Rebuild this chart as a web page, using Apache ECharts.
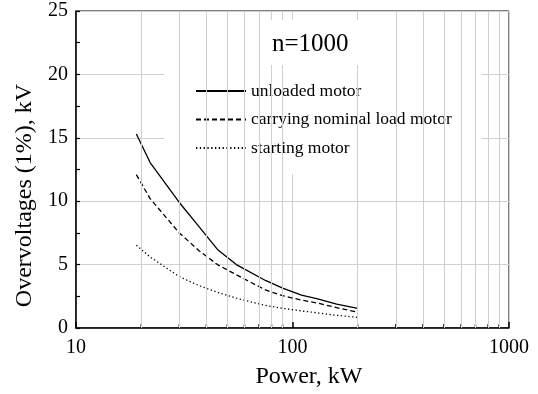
<!DOCTYPE html>
<html>
<head>
<meta charset="utf-8">
<script src="https://cdn.jsdelivr.net/npm/echarts@6/dist/echarts.min.js"></script>
<style>
  html, body { margin: 0; padding: 0; background: #fff; }
  #chart-container { width: 538px; height: 394px; }
</style>
</head>
<body>
<div id="chart-container"></div>
<script>
// 讀圖估出來的數值
const seriesNames = ['unloaded motor', 'carrying nominal load motor', 'starting motor'];
const power = [19, 22, 30, 37, 45, 55, 75, 90, 110, 132, 160, 200];
const unloaded = [15.3, 13.05, 9.9, 8.0, 6.2, 5.0, 3.75, 3.15, 2.6, 2.27, 1.88, 1.55];
const nominalLoad = [12.1, 10.2, 7.5, 6.1, 5.0, 4.2, 3.0, 2.55, 2.2, 1.95, 1.6, 1.25];
const starting = [6.53, 5.6, 4.05, 3.34, 2.82, 2.35, 1.78, 1.55, 1.35, 1.18, 1.0, 0.84];
const minorX = [20, 30, 40, 50, 60, 70, 80, 90, 200, 300, 400, 500, 600, 700, 800, 900];
const titleText = 'n=1000';

const font = "'Liberation Serif', 'Times New Roman', serif";

function pairs(values) {
  return power.map((p, i) => [p, values[i]]);
}

function renderChart() {
  var dom = document.getElementById('chart-container');
  var myChart = echarts.init(dom, null, { renderer: 'canvas' });

  const curveStyle = (type) => ({
    color: '#000',
    width: 1.3,
    type: type
  });

  var option = {
    animation: false,
    backgroundColor: '#fff',
    textStyle: { fontFamily: font, color: '#000' },
    title: {
      text: titleText,
      left: 262,
      top: 20,
      padding: [12, 25, 8, 10],
      backgroundColor: '#fff',
      textStyle: { fontFamily: font, fontSize: 25, fontWeight: 'normal', color: '#000' }
    },
    legend: {
      data: seriesNames,
      orient: 'vertical',
      left: 164,
      top: 65,
      padding: [17, 30, 17, 31],
      itemWidth: 50,
      itemHeight: 10,
      itemGap: 10.5,
      backgroundColor: '#fff',
      selectedMode: false,
      // 只留線段，不要圓點
      itemStyle: { color: 'transparent', borderWidth: 0, opacity: 0 },
      textStyle: { fontFamily: font, fontSize: 17.5, color: '#000' }
    },
    grid: {
      left: 76,
      right: 29,
      top: 11,
      bottom: 64,
      show: true,
      borderColor: '#000',
      borderWidth: 1
    },
    xAxis: {
      type: 'log',
      logBase: 10,
      min: 10,
      max: 1000,
      name: 'Power, kW',
      nameLocation: 'middle',
      nameGap: 37,
      nameTextStyle: { fontFamily: font, fontSize: 24, color: '#000', padding: [0, 0, 0, 33] },
      axisLine: { lineStyle: { color: '#000', width: 1.5 } },
      axisTick: { inside: true, length: 6, lineStyle: { color: '#000', width: 1.5 } },
      axisLabel: {
        fontFamily: font, fontSize: 20, color: '#000', margin: 10,
        formatter: v => String(Math.round(v))
      },
      splitLine: { show: true, lineStyle: { color: '#d0d0d0', width: 1 } }
    },
    yAxis: {
      type: 'value',
      min: 0,
      max: 25,
      interval: 5,
      name: 'Overvoltages (1%), kV',
      nameLocation: 'middle',
      nameGap: 33,
      nameTextStyle: { fontFamily: font, fontSize: 24, color: '#000', padding: [0, 52, 0, 0] },
      axisLine: { show: true, lineStyle: { color: '#000', width: 1.5 } },
      axisTick: { inside: true, length: 4, lineStyle: { color: '#000', width: 1.2 } },
      minorTick: { show: true, splitNumber: 2, length: 4, lineStyle: { color: '#000', width: 1.2 } },
      axisLabel: { fontFamily: font, fontSize: 20, color: '#000', margin: 8 },
      splitLine: { show: true, lineStyle: { color: '#d0d0d0', width: 1 } }
    },
    series: [
      {
        // 次要格線 (log 軸的 2..9)
        name: 'minor-grid',
        type: 'line',
        data: [],
        z: 1,
        silent: true,
        markLine: {
          silent: true,
          symbol: ['none', 'none'],
          label: { show: false },
          lineStyle: { color: '#d0d0d0', width: 1, type: 'solid' },
          data: minorX.map(v => ({ xAxis: v }))
        }
      },
      {
        // 下方的小刻度
        name: 'minor-ticks',
        type: 'scatter',
        silent: true,
        z: 3,
        symbol: 'rect',
        symbolSize: [1.5, 4],
        symbolOffset: [0, -2],
        itemStyle: { color: '#000' },
        data: minorX.map(v => [v, 0])
      },
      {
        name: seriesNames[0],
        type: 'line',
        symbol: 'none',
        showSymbol: false,
        lineStyle: curveStyle('solid'),
        itemStyle: { color: '#000' },
        data: pairs(unloaded)
      },
      {
        name: seriesNames[1],
        type: 'line',
        symbol: 'none',
        showSymbol: false,
        lineStyle: curveStyle([5, 3]),
        itemStyle: { color: '#000' },
        data: pairs(nominalLoad)
      },
      {
        name: seriesNames[2],
        type: 'line',
        symbol: 'none',
        showSymbol: false,
        lineStyle: curveStyle([1.3, 2.5]),
        itemStyle: { color: '#000' },
        data: pairs(starting)
      }
    ]
  };

  myChart.setOption(option);
  window.addEventListener('resize', myChart.resize);
}
renderChart();
</script>
</body>
</html>
